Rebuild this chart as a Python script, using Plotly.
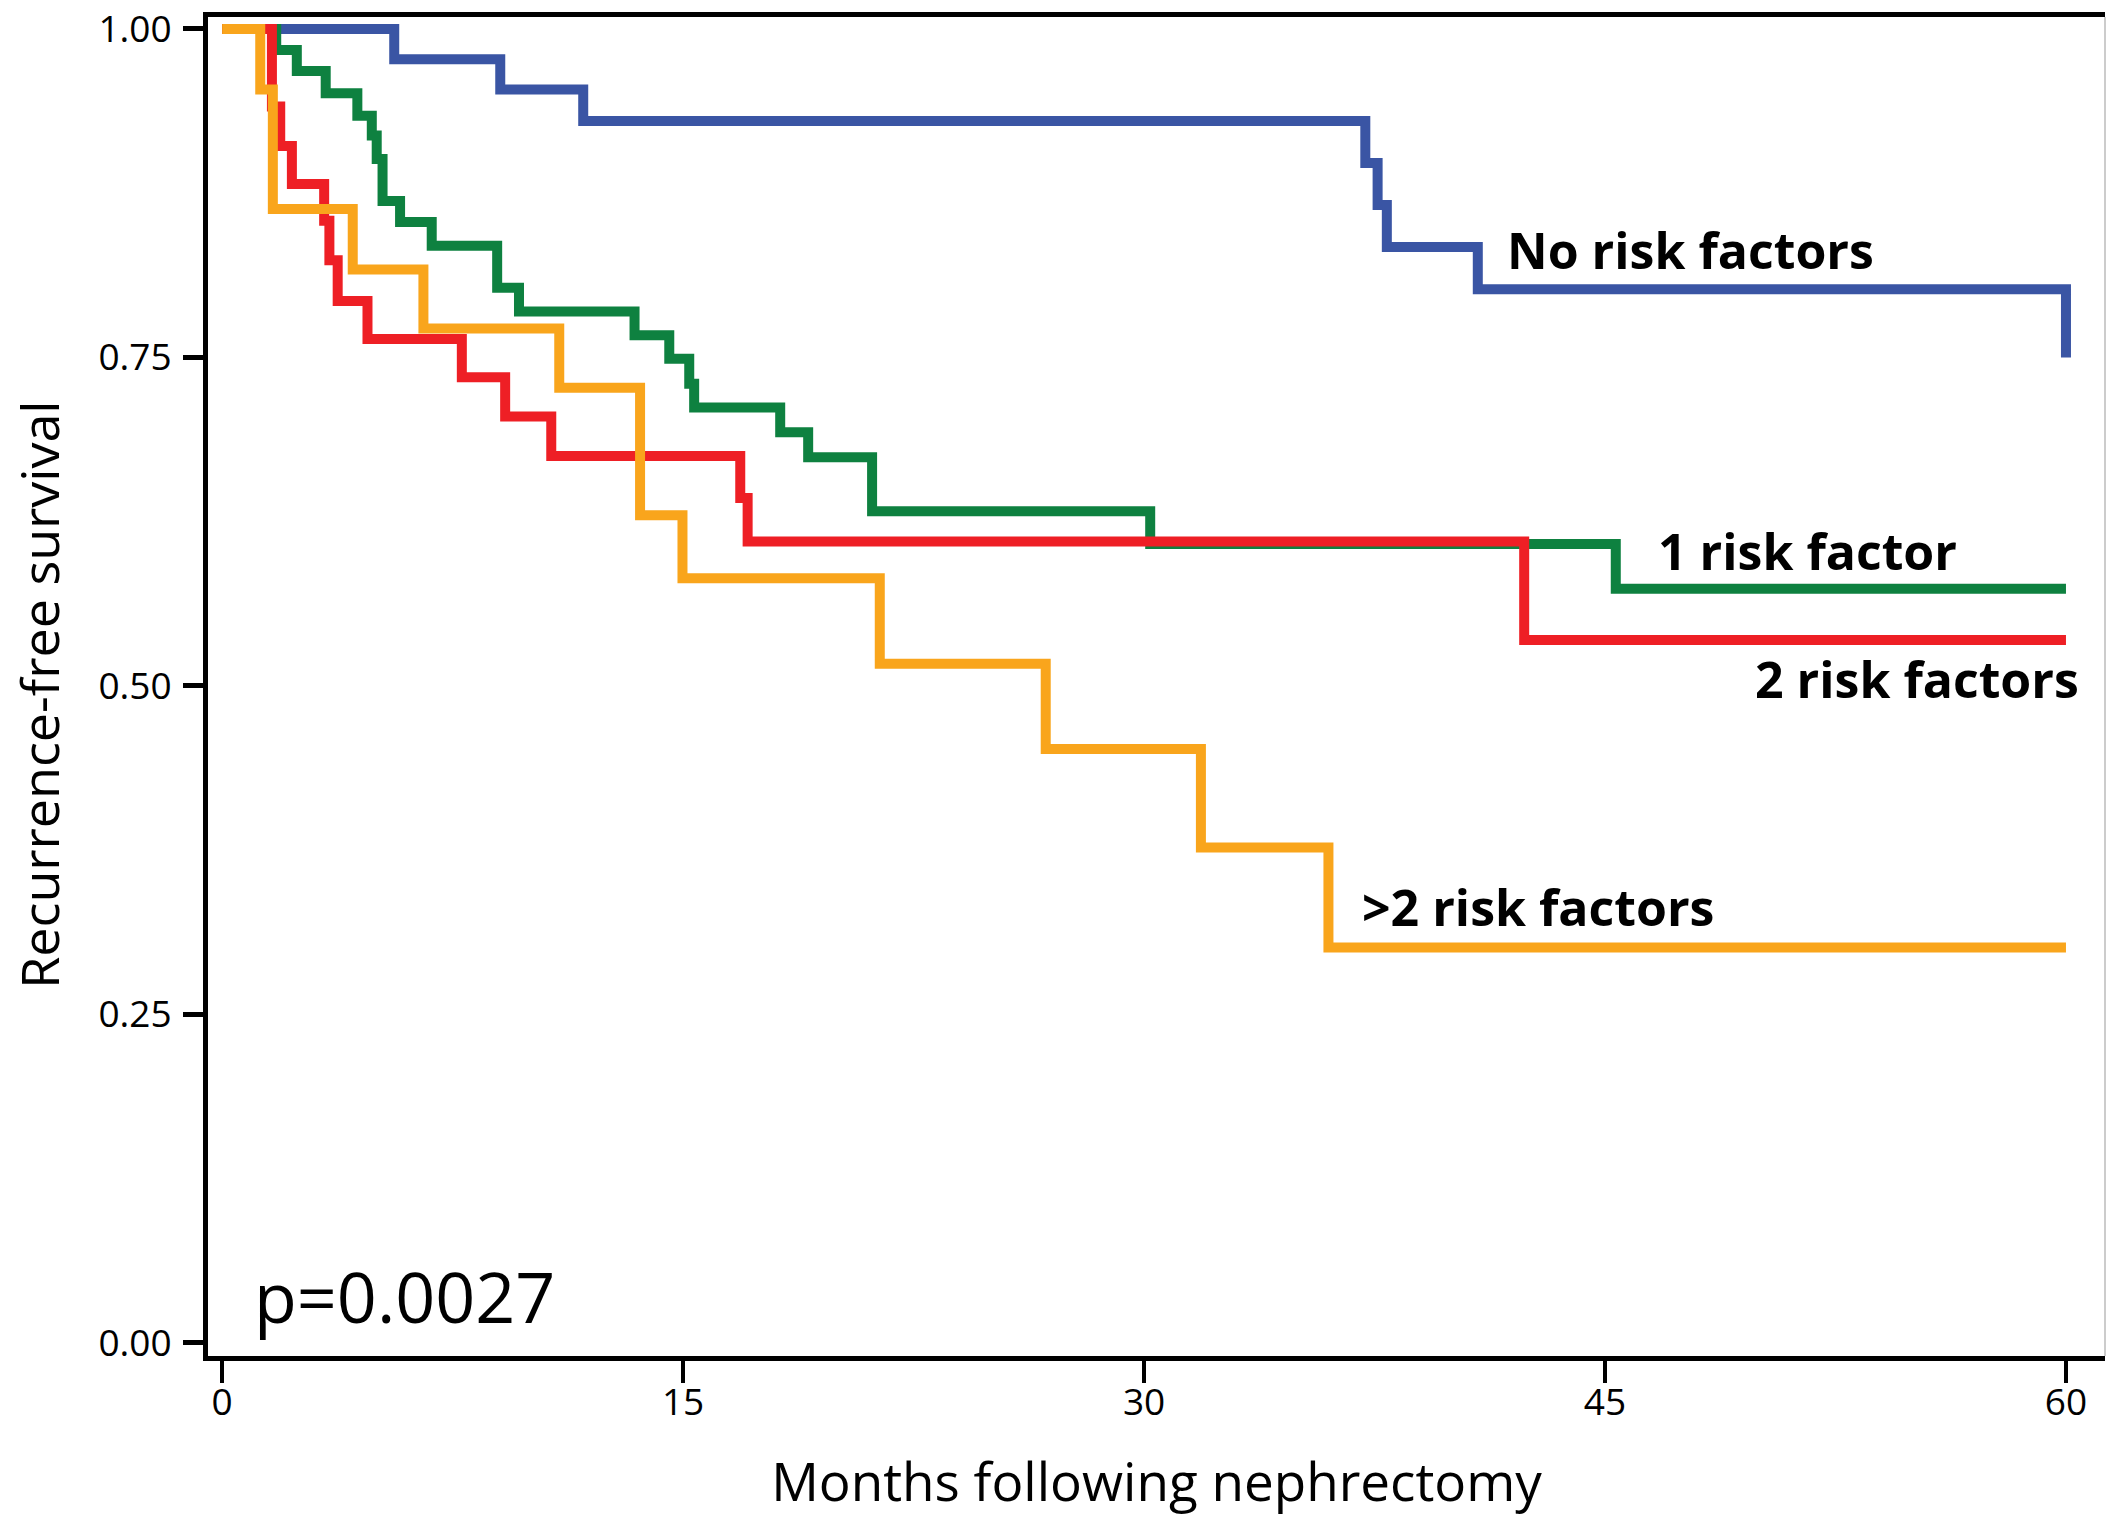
import plotly.graph_objects as go

# ---------------- data ----------------
t_none = [0, 5.6, 9.05, 11.75, 37.2, 37.6, 37.9, 40.86, 60.0]
s_none = [1.0, 0.977, 0.954, 0.930, 0.898, 0.866, 0.834, 0.802, 0.750]

t_one = [0, 1.76, 2.43, 3.37, 4.40, 4.87, 5.03, 5.22, 5.79, 6.82, 8.95, 9.66,
         13.42, 14.55, 15.2, 15.36, 18.16, 19.07, 21.15, 30.2, 45.35, 60.0]
s_one = [1.0, 0.984, 0.968, 0.951, 0.934, 0.919, 0.901, 0.869, 0.853, 0.835, 0.803, 0.785,
         0.767, 0.749, 0.730, 0.712, 0.693, 0.674, 0.633, 0.608, 0.574, 0.574]

t_two = [0, 1.62, 1.89, 2.27, 3.32, 3.49, 3.76, 4.73, 7.8, 9.21, 10.71, 16.86, 17.1, 42.37, 60.0]
s_two = [1.0, 0.941, 0.911, 0.882, 0.854, 0.824, 0.793, 0.764, 0.735, 0.705, 0.675, 0.643, 0.610, 0.535, 0.535]

t_more = [0, 1.24, 1.65, 4.25, 6.55, 10.97, 13.6, 14.98, 21.4, 26.8, 31.85, 36.0, 60.0]
s_more = [1.0, 0.954, 0.863, 0.817, 0.772, 0.727, 0.630, 0.582, 0.517, 0.452, 0.377, 0.301, 0.301]

series_names = ["No risk factors", "1 risk factor", "2 risk factors", ">2 risk factors"]
series_colors = ["#3A55A4", "#0E8140", "#EE1F25", "#F9A51C"]

x_ticks = [0, 15, 30, 45, 60]
y_ticks = [0.0, 0.25, 0.5, 0.75, 1.0]
y_tick_text = ["0.00", "0.25", "0.50", "0.75", "1.00"]

FONT = "Open Sans"

fig = go.Figure()
for t, s, name, col in zip([t_none, t_one, t_two, t_more],
                           [s_none, s_one, s_two, s_more],
                           series_names, series_colors):
    fig.add_trace(go.Scatter(x=t, y=s, mode="lines", name=name,
                             line=dict(shape="hv", color=col, width=10),
                             showlegend=False, hoverinfo="skip"))

# curve labels
labels = [
    ("No risk factors", 41.75, 0.832),
    ("1 risk factor", 46.65, 0.603),
    ("2 risk factors", 49.8, 0.505),
    (">2 risk factors", 37.03, 0.332),
]
for txt, x, y in labels:
    fig.add_annotation(x=x, y=y, text=txt, showarrow=False, xanchor="left", yanchor="middle",
                       font=dict(family=FONT, size=50, color="black", weight="bold"))

fig.add_annotation(x=0.98, y=0.036, text="p=0.0027", showarrow=False, xanchor="left",
                   yanchor="middle", font=dict(family=FONT, size=70, color="black"))

# y-axis title placed as a rotated annotation
fig.add_annotation(xref="paper", yref="paper", x=-0.0895, y=0.494, text="Recurrence-free survival",
                   textangle=-90, showarrow=False, xanchor="center", yanchor="middle",
                   font=dict(family=FONT, size=52, color="black"))

# thin grey right border
fig.add_shape(type="line", xref="paper", yref="paper", x0=1, x1=1, y0=0, y1=1,
              line=dict(color="#BBBBBB", width=1.5))

fig.update_layout(
    width=2107, height=1518,
    margin=dict(l=208, r=2, t=14, b=162),
    paper_bgcolor="white", plot_bgcolor="white",
    font=dict(family=FONT, color="black"),
)
fig.update_xaxes(
    range=[-0.46, 61.27], showgrid=False, zeroline=False,
    showline=True, linecolor="black", linewidth=5, mirror=True,
    ticks="outside", ticklen=22, tickwidth=4, tickcolor="black",
    tickvals=x_ticks, ticktext=[str(v) for v in x_ticks],
    ticklabelstandoff=-12, ticklabeloverflow="allow",
    tickfont=dict(family=FONT, size=37, color="black"),
    title=dict(text="Months following nephrectomy", font=dict(family=FONT, size=53, color="black"),
               standoff=40),
)
fig.update_yaxes(
    range=[-0.0099, 1.0091], showgrid=False, zeroline=False,
    showline=True, linecolor="black", linewidth=5, mirror=False,
    ticks="outside", ticklen=20, tickwidth=5, tickcolor="black",
    tickvals=y_ticks, ticktext=y_tick_text, ticklabelstandoff=4,
    ticklabeloverflow="allow",
    tickfont=dict(family=FONT, size=37, color="black"),
)

fig.write_html("out.html", config={"displayModeBar": False},
               post_script="document.body.style.margin='0px';")
